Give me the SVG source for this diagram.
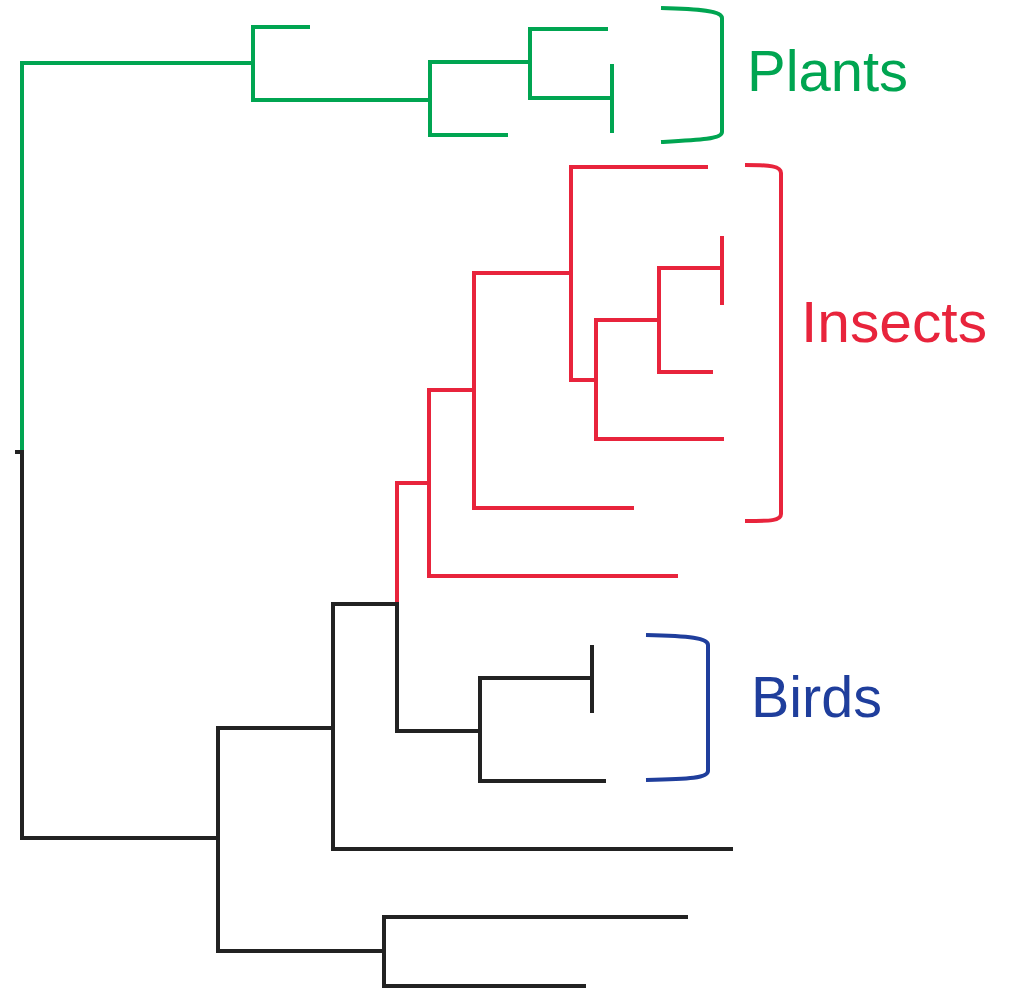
<svg xmlns="http://www.w3.org/2000/svg" width="1009" height="990" viewBox="0 0 1009 990">
<style>
.g{stroke:#00a551}
.r{stroke:#e8243c}
.k{stroke:#222222}
.b{stroke:#1f3e9c}
line,polyline,path{fill:none;stroke-width:4;stroke-linecap:butt;stroke-linejoin:miter}
text{font-family:"Liberation Sans",Arial,sans-serif;font-size:58px}
</style>
<rect width="1009" height="990" fill="#ffffff"/>
<g id="connectors">
  <g id="plants-tree" class="g">
    <polyline points="22,450 22,63 253,63"/>
    <polyline points="310,27 253,27 253,100 430,100"/>
    <polyline points="508,135 430,135 430,62 530,62"/>
    <polyline points="608,29 530,29 530,98 612,98"/>
    <line x1="612" y1="64" x2="612" y2="133"/>
  </g>
  <g id="insects-tree" class="r">
    <polyline points="397,604 397,483 429,483"/>
    <polyline points="678,576 429,576 429,390 474,390"/>
    <polyline points="634,508 474,508 474,273 571,273"/>
    <polyline points="708,167 571,167 571,380 596,380"/>
    <polyline points="724,439 596,439 596,320 659,320"/>
    <polyline points="713,372 659,372 659,268 722,268"/>
    <line x1="722" y1="236" x2="722" y2="305"/>
  </g>
  <g id="black-tree" class="k">
    <polyline points="15,452 22,452 22,838 218,838"/>
    <polyline points="333,728 218,728 218,951 384,951"/>
    <polyline points="688,917 384,917 384,986 586,986"/>
    <polyline points="733,849 333,849 333,604 397,604 397,731 480,731"/>
    <polyline points="592,678 480,678 480,781 606,781"/>
    <line x1="592" y1="645" x2="592" y2="713"/>
  </g>
</g>
<g id="plants">
  <path class="g" d="M661,8 C700,9 722,11 722,18 L722,132 C722,139 700,140 661,142"/>
  <text x="747" y="91" fill="#00a551" textLength="161" lengthAdjust="spacingAndGlyphs">Plants</text>
</g>
<g id="insects">
  <path class="r" d="M745,165 C770,165 781,166 781,173 L781,514 C781,521 770,521 745,521"/>
  <text x="801" y="342" fill="#e8243c" textLength="186" lengthAdjust="spacingAndGlyphs">Insects</text>
</g>
<g id="birds">
  <path class="b" d="M646,635 C690,636 708,638 708,645 L708,771 C708,778 690,779 646,780"/>
  <text x="751" y="717" fill="#1f3e9c" textLength="131" lengthAdjust="spacingAndGlyphs">Birds</text>
</g>
</svg>
